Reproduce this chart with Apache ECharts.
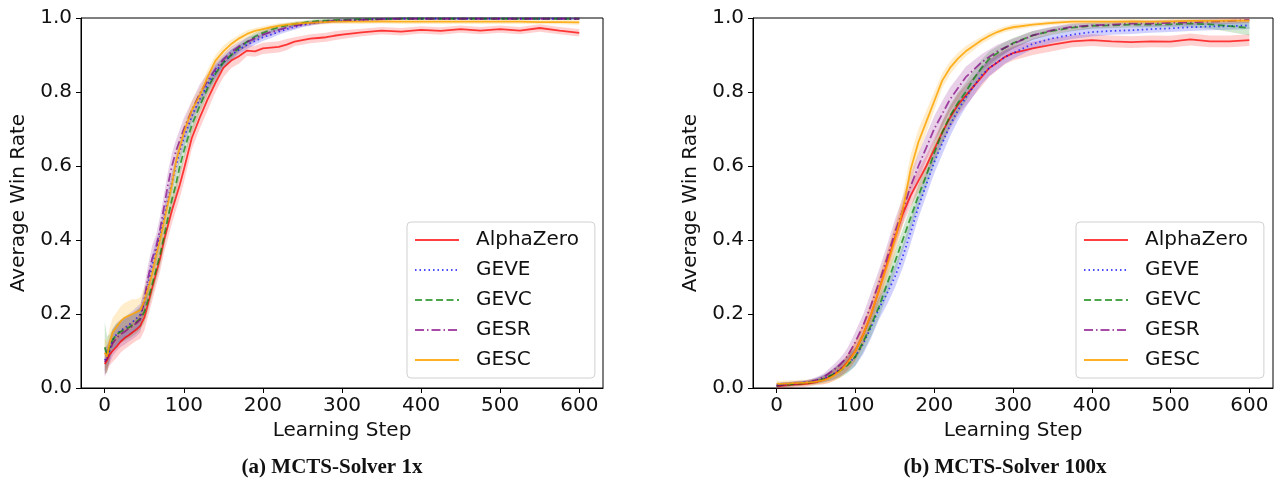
<!DOCTYPE html>
<html><head><meta charset="utf-8">
<script src="https://cdn.jsdelivr.net/npm/echarts@6/dist/echarts.min.js"></script>
<style>html,body{margin:0;padding:0;background:#fff}#c{width:1282px;height:485px}</style>
</head><body><div id="c"></div>
<script>
// ---- data ----
const steps = [0,3,6,10,15,20,25,30,35,40,45,50,55,60,65,70,75,80,85,90,95,100,110,120,130,140,150,160,170,180,190,200,210,220,230,240,250,260,270,280,290,300,325,350,375,400,425,450,475,500,525,550,575,600];
const names = ['AlphaZero','GEVE','GEVC','GESR','GESC'];
const xTicks = [0,100,200,300,400,500,600];
const yTicks = [0,0.2,0.4,0.6,0.8,1.0];
const captions = ['(a) MCTS-Solver 1x','(b) MCTS-Solver 100x'];

// (a) MCTS-Solver 1x : means
const a_alpha = [.065,.075,.09,.10,.112,.125,.135,.142,.15,.158,.168,.19,.23,.27,.31,.35,.40,.44,.48,.515,.55,.59,.675,.73,.78,.825,.865,.885,.897,.912,.91,.918,.92,.922,.928,.936,.94,.944,.946,.948,.952,.955,.961,.966,.963,.968,.965,.97,.966,.97,.966,.973,.966,.96];
const a_geve  = [.075,.085,.10,.13,.145,.155,.162,.17,.178,.188,.198,.23,.28,.33,.37,.41,.46,.51,.555,.60,.64,.675,.735,.78,.82,.855,.88,.90,.915,.928,.938,.948,.955,.963,.97,.976,.981,.985,.988,.99,.992,.993,.995,.997,.998,.998,.998,.998,.998,.998,.998,.998,.998,.998];
const a_gevc  = [.11,.09,.11,.13,.145,.152,.158,.163,.17,.178,.188,.205,.24,.28,.32,.36,.41,.46,.51,.55,.60,.64,.71,.762,.81,.85,.88,.90,.92,.936,.95,.96,.968,.975,.98,.984,.987,.99,.992,.993,.994,.995,.997,.997,.998,.998,.998,.998,.998,.998,.998,.998,.998,.998];
const a_gesr  = [.07,.08,.10,.12,.135,.145,.152,.16,.167,.175,.185,.24,.30,.35,.38,.43,.49,.55,.60,.64,.67,.70,.75,.795,.83,.862,.888,.908,.924,.935,.945,.955,.962,.968,.974,.979,.983,.986,.988,.99,.992,.993,.995,.997,.998,.998,.998,.998,.998,.998,.998,.998,.998,.998];
const a_gesc  = [.095,.085,.12,.15,.165,.18,.19,.195,.20,.205,.21,.235,.27,.31,.36,.40,.45,.50,.55,.61,.65,.69,.75,.79,.84,.885,.91,.93,.945,.957,.965,.97,.975,.979,.982,.984,.986,.987,.988,.989,.99,.99,.99,.991,.99,.99,.99,.99,.99,.99,.99,.989,.989,.988];
// (a) band half-widths
const a_alpha_err = [.03,.03,.03,.03,.03,.03,.03,.03,.03,.03,.035,.035,.035,.035,.035,.035,.035,.035,.035,.035,.035,.035,.03,.03,.03,.025,.025,.02,.02,.015,.015,.015,.015,.015,.015,.012,.012,.012,.012,.012,.012,.012,.01,.01,.01,.01,.01,.01,.01,.01,.01,.01,.01,.01];
const a_geve_err  = [.03,.03,.03,.03,.03,.03,.03,.03,.03,.03,.03,.03,.03,.03,.03,.025,.025,.025,.025,.025,.025,.025,.02,.02,.02,.02,.015,.015,.012,.012,.01,.01,.01,.008,.008,.008,.006,.006,.005,.005,.005,.005,.004,.004,.003,.003,.003,.003,.003,.003,.003,.003,.003,.003];
const a_gevc_err  = [.07,.05,.035,.03,.03,.03,.03,.03,.03,.03,.03,.03,.03,.03,.03,.03,.03,.03,.03,.03,.03,.025,.025,.02,.02,.02,.015,.015,.012,.012,.01,.01,.008,.008,.006,.006,.005,.005,.005,.004,.004,.004,.003,.003,.003,.003,.003,.003,.003,.003,.003,.003,.003,.003];
const a_gesr_err  = [.04,.035,.035,.035,.035,.035,.035,.035,.035,.035,.035,.035,.035,.035,.035,.035,.035,.035,.035,.03,.03,.03,.025,.025,.02,.02,.015,.015,.012,.012,.01,.01,.01,.008,.008,.008,.006,.006,.005,.005,.005,.005,.004,.004,.003,.003,.003,.003,.003,.003,.003,.003,.003,.003];
const a_gesc_err  = [.04,.04,.04,.04,.04,.04,.04,.04,.04,.035,.035,.035,.03,.03,.03,.03,.03,.03,.03,.03,.03,.025,.025,.02,.02,.015,.015,.012,.01,.01,.008,.008,.007,.007,.006,.006,.006,.006,.006,.006,.006,.006,.006,.006,.006,.006,.006,.006,.006,.006,.006,.006,.006,.006];

// (b) MCTS-Solver 100x : means
const b_alpha = [.005,.005,.006,.007,.008,.009,.01,.01,.011,.012,.014,.016,.019,.022,.027,.033,.04,.048,.058,.07,.085,.10,.145,.20,.265,.335,.405,.47,.52,.56,.60,.645,.69,.73,.765,.79,.815,.84,.865,.88,.895,.905,.918,.928,.937,.94,.937,.935,.937,.936,.942,.937,.937,.94];
const b_geve  = [.008,.009,.01,.01,.011,.012,.013,.014,.015,.016,.018,.02,.023,.026,.03,.035,.042,.05,.057,.065,.075,.085,.12,.165,.215,.255,.30,.355,.42,.49,.55,.61,.66,.71,.75,.785,.815,.845,.865,.88,.895,.905,.93,.945,.955,.962,.965,.967,.97,.972,.975,.977,.978,.98];
const b_gevc  = [.006,.007,.008,.008,.009,.01,.011,.012,.013,.014,.016,.018,.021,.025,.03,.035,.04,.046,.053,.062,.073,.085,.125,.17,.22,.28,.34,.40,.46,.52,.575,.635,.69,.735,.77,.80,.835,.865,.89,.905,.92,.932,.953,.965,.974,.979,.98,.982,.982,.983,.985,.983,.978,.973];
const b_gesr  = [.006,.007,.008,.009,.01,.011,.012,.013,.014,.016,.018,.021,.025,.03,.037,.045,.053,.062,.073,.087,.105,.125,.17,.225,.285,.35,.42,.48,.545,.60,.65,.70,.74,.78,.81,.84,.86,.88,.895,.91,.92,.93,.953,.967,.976,.98,.982,.985,.985,.987,.988,.99,.992,.995];
const b_gesc  = [.012,.011,.011,.012,.012,.013,.013,.014,.014,.015,.016,.017,.019,.021,.025,.03,.037,.045,.055,.068,.083,.10,.145,.20,.265,.33,.40,.48,.59,.665,.72,.775,.83,.865,.89,.91,.925,.94,.952,.962,.97,.975,.982,.987,.99,.99,.99,.991,.99,.991,.992,.992,.993,.993];
// (b) band half-widths
const b_alpha_err = [.008,.008,.008,.008,.008,.008,.008,.008,.008,.008,.008,.008,.01,.012,.014,.016,.018,.02,.02,.022,.025,.025,.03,.03,.03,.03,.03,.03,.03,.03,.03,.03,.03,.03,.03,.028,.026,.025,.024,.022,.02,.02,.018,.018,.016,.016,.016,.016,.016,.016,.016,.016,.016,.016];
const b_geve_err  = [.006,.006,.006,.006,.006,.006,.006,.006,.006,.006,.007,.008,.009,.01,.012,.014,.016,.018,.02,.022,.024,.025,.028,.03,.03,.03,.03,.03,.03,.03,.03,.03,.03,.03,.028,.026,.025,.024,.022,.02,.018,.016,.014,.012,.012,.012,.01,.01,.01,.01,.01,.01,.01,.01];
const b_gevc_err  = [.006,.006,.006,.006,.006,.006,.006,.006,.006,.006,.007,.008,.009,.01,.012,.014,.016,.018,.02,.022,.024,.025,.028,.03,.03,.03,.03,.03,.03,.03,.03,.03,.03,.03,.028,.026,.024,.022,.02,.018,.016,.014,.012,.01,.01,.008,.008,.008,.008,.008,.01,.012,.016,.02];
const b_gesr_err  = [.006,.006,.006,.006,.006,.006,.006,.006,.006,.006,.007,.008,.009,.01,.012,.014,.016,.018,.02,.022,.025,.028,.03,.035,.035,.035,.035,.035,.035,.035,.035,.035,.035,.032,.03,.028,.025,.022,.02,.018,.016,.014,.012,.01,.01,.008,.008,.008,.008,.008,.008,.008,.008,.008];
const b_gesc_err  = [.008,.008,.008,.008,.008,.008,.008,.008,.008,.008,.008,.008,.009,.01,.012,.014,.016,.018,.02,.022,.025,.028,.03,.035,.04,.04,.04,.04,.04,.035,.03,.025,.02,.018,.016,.014,.012,.01,.01,.008,.008,.008,.006,.006,.006,.006,.006,.006,.006,.006,.006,.006,.006,.006];

// ---- styles ----
const lineColors = ['rgba(255,0,0,0.75)','rgba(0,0,255,0.7)','rgba(0,128,0,0.7)','rgba(128,0,128,0.7)','rgba(255,165,0,0.85)'];
const bandColors = ['rgba(255,0,0,0.18)','rgba(0,0,255,0.18)','rgba(0,128,0,0.18)','rgba(128,0,128,0.18)','rgba(255,165,0,0.2)'];
const dashes = ['solid',[1.5,3],[7,3.5],[9,3,1.5,3],'solid'];
const FONT = 'DejaVu Sans';

const panels = [
  {means:[a_alpha,a_geve,a_gevc,a_gesr,a_gesc], errs:[a_alpha_err,a_geve_err,a_gevc_err,a_gesr_err,a_gesc_err]},
  {means:[b_alpha,b_geve,b_gevc,b_gesr,b_gesc], errs:[b_alpha_err,b_geve_err,b_gevc_err,b_gesr_err,b_gesc_err]}
];

const grids = [
  {left:81, right:679, top:18, bottom:97, show:true, borderColor:'#000', borderWidth:1, backgroundColor:'transparent'},
  {left:753, right:9, top:18, bottom:97, show:true, borderColor:'#000', borderWidth:1, backgroundColor:'transparent'}
];

const axisText = {color:'#111', fontFamily:FONT, fontSize:20};
const xAxes = grids.map((g,i)=>({
  type:'value', gridIndex:i, min:-30, max:630,
  name:'Learning Step', nameLocation:'middle', nameGap:30, nameTextStyle:axisText,
  axisLine:{show:true, onZero:false, lineStyle:{color:'#000', width:1}},
  axisTick:{show:true, length:5, lineStyle:{color:'#000'}, customValues:xTicks},
  axisLabel:Object.assign({margin:8, customValues:xTicks}, axisText),
  splitLine:{show:false}
}));
const yAxes = grids.map((g,i)=>({
  type:'value', gridIndex:i, min:0, max:1, interval:0.2,
  name:'Average Win Rate', nameLocation:'middle', nameGap:52, nameTextStyle:axisText,
  axisLine:{show:true, onZero:false, lineStyle:{color:'#000', width:1}},
  axisTick:{show:true, length:5, lineStyle:{color:'#000'}, customValues:yTicks},
  axisLabel:Object.assign({margin:9, customValues:yTicks, formatter:v=>v.toFixed(1)}, axisText),
  splitLine:{show:false}
}));

const series = [];
// main lines first so the legend picks up their style
panels.forEach((p,pi)=>{
  names.forEach((n,k)=>{
    series.push({
      name:n, type:'line', xAxisIndex:pi, yAxisIndex:pi, symbol:'none', z:3,
      data:steps.map((x,j)=>[x,p.means[k][j]]),
      lineStyle:{color:lineColors[k], width:1.8, type:dashes[k]},
      itemStyle:{color:lineColors[k]}, silent:true
    });
  });
});
// shaded bands (mean ± err), drawn as polygons through the axes' coordinate mapping
panels.forEach((p,pi)=>{
  names.forEach((n,k)=>{
    const m = p.means[k], e = p.errs[k];
    series.push({
      name:n+'_band'+pi, type:'custom', xAxisIndex:pi, yAxisIndex:pi, z:2, silent:true,
      data:[[0,0]],
      renderItem:function(params, api){
        const pts = [];
        for (let j=0;j<steps.length;j++) pts.push(api.coord([steps[j], m[j]+e[j]]));
        for (let j=steps.length-1;j>=0;j--) pts.push(api.coord([steps[j], m[j]-e[j]]));
        return {type:'polygon', shape:{points:pts}, style:{fill:bandColors[k], stroke:null}};
      }
    });
  });
});

const legendBase = {
  orient:'vertical', top:222, itemWidth:44, itemHeight:14, itemGap:8,
  padding:[7,16,7,7], borderColor:'#d0d0d0', borderWidth:1, borderRadius:4,
  backgroundColor:'rgba(255,255,255,0.8)', data:names,
  textStyle:{fontFamily:FONT, fontSize:20, color:'#111', lineHeight:22, padding:[0,0,0,12]},
  lineStyle:{width:2}, itemStyle:{opacity:0, borderWidth:0}, selectedMode:false
};

const option = {
  animation:false,
  grid:grids, xAxis:xAxes, yAxis:yAxes, series:series,
  legend:[Object.assign({left:407}, legendBase), Object.assign({left:1076}, legendBase)],
  graphic:[
    {type:'text', x:332, y:468, style:{text:captions[0], font:'bold 21px "Liberation Serif"', fill:'#111', textAlign:'center', textVerticalAlign:'middle'}},
    {type:'text', x:1005, y:468, style:{text:captions[1], font:'bold 21px "Liberation Serif"', fill:'#111', textAlign:'center', textVerticalAlign:'middle'}}
  ]
};
const chart = echarts.init(document.getElementById('c'), null, {renderer:'canvas'});
chart.setOption(option);
</script></body></html>
